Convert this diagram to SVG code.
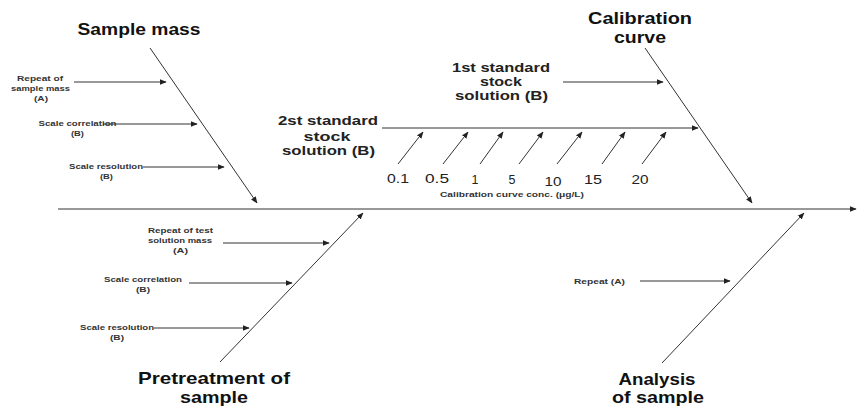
<svg xmlns="http://www.w3.org/2000/svg" width="863" height="420" viewBox="0 0 863 420">
<defs>
<marker id="ah" viewBox="0 0 10 10" refX="9" refY="5" markerWidth="7" markerHeight="7" markerUnits="userSpaceOnUse" orient="auto">
<path d="M0,1 L10,5 L0,9 Z" fill="#222"/>
</marker>
</defs>
<style>
.ar{stroke:#333;stroke-width:1;fill:none;marker-end:url(#ah)}
text{font-family:"Liberation Sans","Open Sans",sans-serif;text-anchor:middle}
.title{font-weight:bold;font-size:17px;fill:#111}
.mid{font-weight:bold;font-size:12.5px;fill:#222}
.num{font-size:12.5px;fill:#222}
.sm{font-weight:bold;font-size:7.5px;fill:#333}
</style>
<rect width="863" height="420" fill="#fff"/>
<g id="connectors">
<line class="ar" x1="58" y1="209" x2="856" y2="209"/>
<line class="ar" x1="150" y1="48" x2="257" y2="203"/>
<line class="ar" x1="220" y1="362" x2="363" y2="213"/>
<line class="ar" x1="645" y1="48" x2="752" y2="203"/>
<line class="ar" x1="662" y1="363" x2="804" y2="213"/>
<line class="ar" x1="74" y1="82" x2="166" y2="82"/>
<line class="ar" x1="103" y1="124" x2="197" y2="124"/>
<line class="ar" x1="143" y1="167" x2="224" y2="167"/>
<line class="ar" x1="223" y1="243" x2="329" y2="243"/>
<line class="ar" x1="189" y1="283" x2="292" y2="283"/>
<line class="ar" x1="154" y1="328" x2="249" y2="328"/>
<line class="ar" x1="640" y1="281" x2="730" y2="281"/>
<line class="ar" x1="563" y1="82" x2="663" y2="82"/>
<line class="ar" x1="382" y1="128" x2="698" y2="128"/>
<line class="ar" x1="398" y1="164" x2="423" y2="132"/>
<line class="ar" x1="443" y1="164" x2="468" y2="132"/>
<line class="ar" x1="480" y1="164" x2="503" y2="132"/>
<line class="ar" x1="519" y1="164" x2="543" y2="132"/>
<line class="ar" x1="557" y1="164" x2="582" y2="132"/>
<line class="ar" x1="602" y1="164" x2="625" y2="132"/>
<line class="ar" x1="642" y1="164" x2="666" y2="132"/>
</g>
<g id="sample-mass">
<text class="title" x="139" y="35" textLength="123" lengthAdjust="spacingAndGlyphs">Sample mass</text>
<text class="sm" x="40" y="81" textLength="46" lengthAdjust="spacingAndGlyphs">Repeat of</text>
<text class="sm" x="40.5" y="91" textLength="59" lengthAdjust="spacingAndGlyphs">sample mass</text>
<text class="sm" x="41" y="101" textLength="14" lengthAdjust="spacingAndGlyphs">(A)</text>
<text class="sm" x="77.5" y="126" textLength="78" lengthAdjust="spacingAndGlyphs">Scale correlation</text>
<text class="sm" x="77.5" y="136" textLength="13" lengthAdjust="spacingAndGlyphs">(B)</text>
<text class="sm" x="106" y="169" textLength="74" lengthAdjust="spacingAndGlyphs">Scale resolution</text>
<text class="sm" x="106.5" y="179" textLength="13" lengthAdjust="spacingAndGlyphs">(B)</text>
</g>
<g id="pretreatment">
<text class="title" x="214" y="384" textLength="152" lengthAdjust="spacingAndGlyphs">Pretreatment of</text>
<text class="title" x="214" y="403" textLength="68" lengthAdjust="spacingAndGlyphs">sample</text>
<text class="sm" x="180.5" y="233" textLength="65" lengthAdjust="spacingAndGlyphs">Repeat of test</text>
<text class="sm" x="180" y="243" textLength="64" lengthAdjust="spacingAndGlyphs">solution mass</text>
<text class="sm" x="180.5" y="253" textLength="15" lengthAdjust="spacingAndGlyphs">(A)</text>
<text class="sm" x="143" y="282" textLength="78" lengthAdjust="spacingAndGlyphs">Scale correlation</text>
<text class="sm" x="143" y="292" textLength="14" lengthAdjust="spacingAndGlyphs">(B)</text>
<text class="sm" x="117" y="330" textLength="74" lengthAdjust="spacingAndGlyphs">Scale resolution</text>
<text class="sm" x="117" y="340" textLength="14" lengthAdjust="spacingAndGlyphs">(B)</text>
</g>
<g id="calibration">
<text class="title" x="640" y="24" textLength="104" lengthAdjust="spacingAndGlyphs">Calibration</text>
<text class="title" x="640" y="43" textLength="52" lengthAdjust="spacingAndGlyphs">curve</text>
<text class="mid" x="501" y="72" textLength="98" lengthAdjust="spacingAndGlyphs">1st standard</text>
<text class="mid" x="501" y="86" textLength="42" lengthAdjust="spacingAndGlyphs">stock</text>
<text class="mid" x="501.5" y="100" textLength="93" lengthAdjust="spacingAndGlyphs">solution (B)</text>
<text class="mid" x="328" y="125" textLength="100" lengthAdjust="spacingAndGlyphs">2st standard</text>
<text class="mid" x="327" y="141" textLength="47" lengthAdjust="spacingAndGlyphs">stock</text>
<text class="mid" x="328.5" y="155" textLength="93" lengthAdjust="spacingAndGlyphs">solution (B)</text>
<text class="num" x="398" y="183" textLength="22" lengthAdjust="spacingAndGlyphs">0.1</text>
<text class="num" x="437" y="183" textLength="24" lengthAdjust="spacingAndGlyphs">0.5</text>
<text class="num" x="475" y="184">1</text>
<text class="num" x="512" y="184">5</text>
<text class="num" x="553" y="186" textLength="17" lengthAdjust="spacingAndGlyphs">10</text>
<text class="num" x="593" y="184" textLength="18" lengthAdjust="spacingAndGlyphs">15</text>
<text class="num" x="640" y="184" textLength="17" lengthAdjust="spacingAndGlyphs">20</text>
<text class="sm" x="512" y="197" textLength="144" lengthAdjust="spacingAndGlyphs">Calibration curve conc. (μg/L)</text>
</g>
<g id="analysis">
<text class="title" x="657" y="385" textLength="77" lengthAdjust="spacingAndGlyphs">Analysis</text>
<text class="title" x="658" y="403" textLength="92" lengthAdjust="spacingAndGlyphs">of sample</text>
<text class="sm" x="599.5" y="284" textLength="51" lengthAdjust="spacingAndGlyphs">Repeat (A)</text>
</g>
</svg>
